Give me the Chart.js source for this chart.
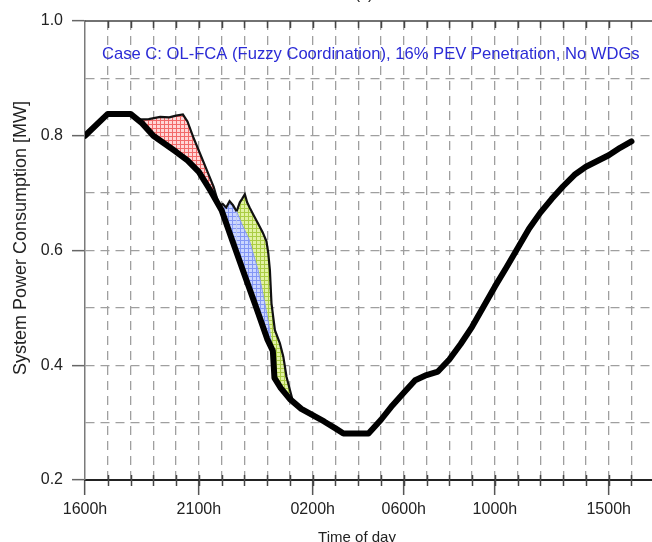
<!DOCTYPE html>
<html>
<head>
<meta charset="utf-8">
<script src="https://cdn.jsdelivr.net/npm/chart.js@4/dist/chart.umd.min.js"></script>
<style>
  html, body { margin: 0; padding: 0; background: #fff; overflow: hidden; }
  #wrap { width: 652px; height: 542px; overflow: hidden; }
</style>
</head>
<body>
<div id="wrap"><canvas id="chart" width="690" height="542"></canvas></div>
<script>
  // hours after 1600h
  const tickHours = [0, 5, 10, 14, 18, 23];
  const tickLabels = ["1600h", "2100h", "0200h", "0600h", "1000h", "1500h"];

  // base load (thick black line), MW
  const baseHours = [0, 1, 2, 2.5, 3, 3.5, 4, 4.5, 5, 5.5, 6, 6.5, 7, 7.5, 8, 8.25, 8.32, 8.6, 9, 9.5, 10, 10.5, 11, 11.35,
    12.45, 13, 13.5, 14, 14.5, 15, 15.5, 16, 16.5, 17, 17.5, 18, 18.5, 19, 19.5, 20, 20.5, 21, 21.5, 22, 22.5, 23, 23.5, 24];
  const baseLoad = [0.800, 0.838, 0.838, 0.822, 0.800, 0.786, 0.772, 0.757, 0.737, 0.705, 0.670, 0.614, 0.558, 0.503, 0.446, 0.425, 0.378, 0.360, 0.341, 0.324, 0.313, 0.302, 0.290, 0.281,
    0.281, 0.305, 0.330, 0.352, 0.374, 0.383, 0.389, 0.410, 0.437, 0.467, 0.502, 0.537, 0.570, 0.604, 0.638, 0.666, 0.690, 0.712, 0.732, 0.746, 0.756, 0.766, 0.779, 0.790];

  // PEV load, red band
  const redHours = [2.3, 2.8, 3.3, 3.7, 4.0, 4.3, 4.5, 4.75, 5.05, 5.35, 5.65, 5.9];
  const redLoad = [0.828, 0.829, 0.833, 0.832, 0.835, 0.837, 0.825, 0.798, 0.769, 0.740, 0.711, 0.677];

  // PEV load, blue band
  const blueHours = [5.9, 6.05, 6.2, 6.35, 6.5, 6.66, 6.9, 7.2, 7.6, 7.9, 8.1, 8.22];
  const blueLoad = [0.677, 0.681, 0.675, 0.686, 0.679, 0.668, 0.645, 0.620, 0.566, 0.508, 0.465, 0.428];

  // PEV load, green band
  const greenHours = [6.66, 6.8, 6.9, 7.02, 7.12, 7.24, 7.4, 7.6, 7.8, 7.97, 8.05, 8.12, 8.19, 8.34, 8.56, 8.71, 8.85, 9.0, 9.1];
  const greenLoad = [0.668, 0.684, 0.690, 0.698, 0.684, 0.674, 0.662, 0.647, 0.632, 0.616, 0.595, 0.566, 0.508, 0.461, 0.438, 0.415, 0.380, 0.357, 0.342];

  const blueSplit = 6.66;
  const FONT = '"Liberation Sans", Arial, sans-serif';

  function points(xs, ys) {
    return xs.map((x, i) => ({ x, y: ys[i] }));
  }

  function hatch(bg, line) {
    const c = document.createElement("canvas");
    c.width = 4;
    c.height = 4;
    const g = c.getContext("2d");
    g.fillStyle = bg;
    g.fillRect(0, 0, 4, 4);
    g.fillStyle = line;
    g.fillRect(0, 0, 4, 1);
    g.fillRect(0, 0, 1, 4);
    return g.createPattern(c, "repeat");
  }

  const frame = {
    id: "frame",
    afterDraw(chart) {
      const { ctx, chartArea: a, scales: { x } } = chart;
      ctx.save();
      // top border + inward ticks, small ticks on the time axis
      ctx.strokeStyle = "#444";
      ctx.lineWidth = 1.5;
      ctx.beginPath();
      ctx.moveTo(a.left, a.top);
      ctx.lineTo(a.right, a.top);
      for (let h = 1; h <= x.max; h++) {
        const px = Math.round(x.getPixelForValue(h)) + 0.5;
        ctx.moveTo(px, a.top);
        ctx.lineTo(px, a.top + 7);
        ctx.moveTo(px, a.bottom - 5);
        ctx.lineTo(px, a.bottom + 6);
      }
      ctx.stroke();

      ctx.fillStyle = "#2b2bd6";
      ctx.font = "16.6px " + FONT;
      ctx.textAlign = "left";
      ctx.textBaseline = "middle";
      ctx.fillText("Case C: OL-FCA (Fuzzy Coordination), 16% PEV Penetration, No WDGs", 102, 54);

      ctx.fillStyle = "#222";
      ctx.font = "16px " + FONT;
      ctx.textAlign = "center";
      ctx.textBaseline = "alphabetic";
      ctx.fillText("(c)", 364, -1);
      ctx.font = "15px " + FONT;
      ctx.fillText("Time of day", 357, 542);

      ctx.translate(21, 238);
      ctx.rotate(-Math.PI / 2);
      ctx.font = "18px " + FONT;
      ctx.textBaseline = "middle";
      ctx.fillText("System Power Consumption [MW]", 0, 0);
      ctx.restore();
    },
  };

  const gridColor = "#9f9f9f";

  new Chart(document.getElementById("chart"), {
    type: "line",
    data: {
      datasets: [
        {
          data: points(redHours, redLoad),
          borderColor: "#111",
          borderWidth: 2.2,
          backgroundColor: hatch("#ffd6d6", "#f26a6a"),
          fill: 3,
          order: 1,
        },
        {
          data: points(blueHours, blueLoad),
          borderColor: "#111",
          borderWidth: 2.2,
          backgroundColor: hatch("#cbd6ff", "#8497f5"),
          fill: 3,
          order: 2,
          segment: {
            borderColor: (c) => (c.p0.parsed.x >= blueSplit - 0.001 ? "#8a9cf2" : "#111"),
            borderWidth: (c) => (c.p0.parsed.x >= blueSplit - 0.001 ? 1 : 2.2),
          },
        },
        {
          data: points(greenHours, greenLoad),
          borderColor: "#111",
          borderWidth: 2.2,
          backgroundColor: hatch("#e2f2a4", "#abcd45"),
          fill: 3,
          order: 3,
        },
        {
          data: points(baseHours, baseLoad),
          borderColor: "#000",
          borderWidth: 6,
          borderJoinStyle: "round",
          borderCapStyle: "round",
          fill: false,
          order: 0,
        },
      ],
    },
    options: {
      responsive: false,
      animation: false,
      layout: { padding: { top: 21, right: 13, left: 0, bottom: 0 } },
      elements: { point: { radius: 0 }, line: { tension: 0 } },
      plugins: { legend: { display: false }, tooltip: { enabled: false } },
      scales: {
        x: {
          type: "linear",
          min: 0,
          max: 26,
          afterFit: (s) => { s.height = 62; },
          ticks: {
            stepSize: 1,
            autoSkip: false,
            maxRotation: 0,
            padding: 5,
            color: "#222",
            font: { size: 16, family: FONT },
            callback: (v) => {
              const i = tickHours.indexOf(Math.round(v));
              return i >= 0 ? tickLabels[i] : "";
            },
          },
          grid: {
            color: (c) => (c.tick && c.tick.value === 0 ? "rgba(0,0,0,0)" : gridColor),
            lineWidth: 1.3,
            tickLength: 15,
            tickWidth: 1.5,
            tickColor: (c) => (c.tick && tickHours.includes(Math.round(c.tick.value)) ? "#555" : "rgba(0,0,0,0)"),
          },
          border: { color: "#222", width: 2, dash: [9, 6] },
        },
        y: {
          min: 0.2,
          max: 1.0,
          afterFit: (s) => { s.width = 85; },
          ticks: {
            stepSize: 0.1,
            padding: 9,
            color: "#222",
            font: { size: 16, family: FONT },
            callback: (v) => {
              const t = Math.round(v * 10);
              return t % 2 === 0 ? (t / 10).toFixed(1) : "";
            },
          },
          grid: {
            color: (c) => {
              const t = c.tick ? Math.round(c.tick.value * 10) : 0;
              return t === 2 || t === 10 ? "rgba(0,0,0,0)" : gridColor;
            },
            lineWidth: 1.3,
            tickLength: 13,
            tickWidth: 1.5,
            tickColor: (c) => (c.tick && Math.round(c.tick.value * 10) % 2 === 0 ? "#666" : "rgba(0,0,0,0)"),
          },
          border: { color: "#7a7a7a", width: 1.5, dash: [9, 6] },
        },
      },
    },
    plugins: [frame],
  });
</script>
</body>
</html>
